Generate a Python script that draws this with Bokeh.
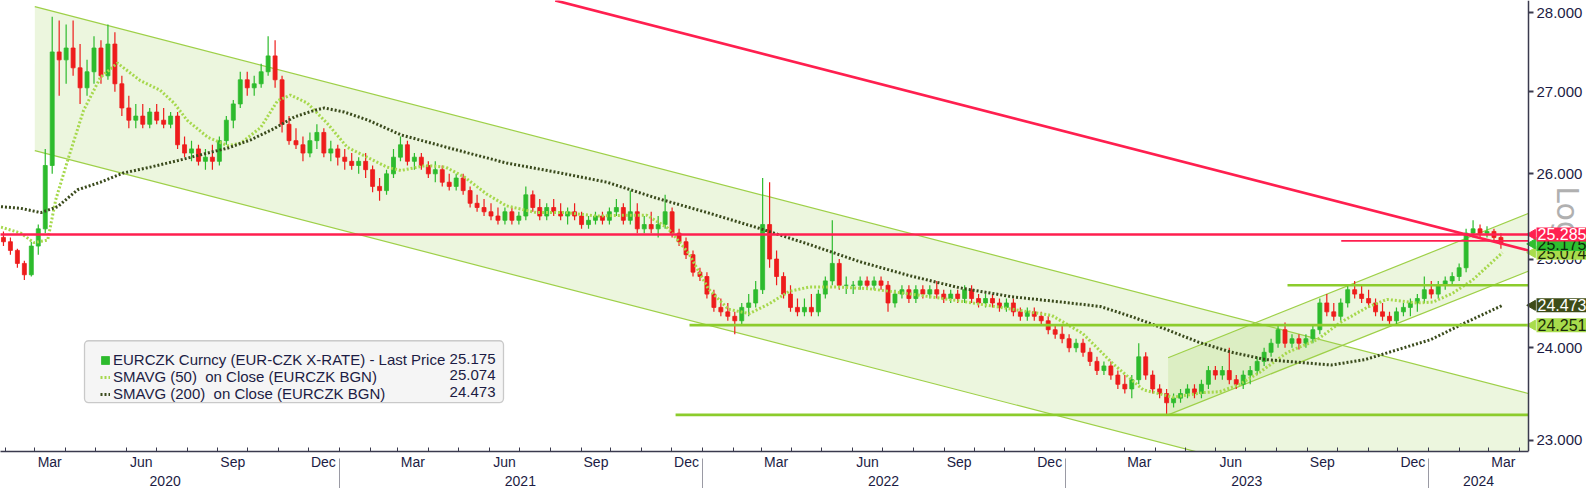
import math
import pandas as pd
from bokeh.plotting import figure
from bokeh.models import (Range1d, LinearAxis, FixedTicker, CustomJSTickFormatter,
                          Label, Legend, LegendItem, BoxAnnotation, ColumnDataSource)
from bokeh.embed import file_html
from bokeh.resources import INLINE

# ---------------- data (weekly EURCZK candles) ----------------
week_first = "2020-01-27"
opens = [
    25.25, 25.20, 25.10, 24.95, 24.82, 25.15, 25.35, 26.10, 27.50, 27.40, 27.55, 27.30,
    27.05, 27.25, 27.55, 27.20, 27.60, 27.10, 26.80, 26.65, 26.70, 26.60, 26.75, 26.65,
    26.60, 26.70, 26.35, 26.25, 26.30, 26.15, 26.20, 26.15, 26.40, 26.65, 26.85, 27.15,
    27.05, 27.10, 27.25, 27.45, 27.15, 26.60, 26.40, 26.35, 26.25, 26.40, 26.50, 26.25,
    26.30, 26.20, 26.15, 26.10, 26.15, 26.05, 25.85, 25.80, 26.00, 26.20, 26.35, 26.15,
    26.20, 26.10, 26.00, 26.05, 25.90, 25.85, 25.95, 25.80, 25.65, 25.60, 25.55, 25.50,
    25.45, 25.55, 25.45, 25.50, 25.75, 25.60, 25.50, 25.60, 25.55, 25.50, 25.55, 25.50,
    25.40, 25.45, 25.50, 25.45, 25.55, 25.60, 25.45, 25.55, 25.35, 25.40, 25.35, 25.40,
    25.55, 25.30, 25.20, 25.05, 24.85, 24.80, 24.60, 24.45, 24.40, 24.35, 24.30, 24.45,
    24.50, 24.65, 25.40, 25.00, 24.80, 24.60, 24.45, 24.40, 24.45, 24.40, 24.60, 24.75,
    24.95, 24.70, 24.70, 24.70, 24.75, 24.70, 24.75, 24.70, 24.50, 24.60, 24.65, 24.55,
    24.65, 24.60, 24.65, 24.60, 24.55, 24.60, 24.55, 24.65, 24.55, 24.50, 24.55, 24.50,
    24.45, 24.50, 24.40, 24.35, 24.40, 24.35, 24.30, 24.20, 24.15, 24.10, 24.00, 24.05,
    23.95, 23.85, 23.75, 23.80, 23.70, 23.60, 23.55, 23.65, 23.90, 23.70, 23.55, 23.50,
    23.40, 23.45, 23.50, 23.55, 23.50, 23.60, 23.75, 23.70, 23.75, 23.65, 23.60, 23.70,
    23.75, 23.85, 23.95, 24.05, 24.20, 24.05, 24.10, 24.05, 24.10, 24.20, 24.50, 24.40,
    24.35, 24.50, 24.65, 24.60, 24.55, 24.50, 24.40, 24.35, 24.30, 24.40, 24.45, 24.50,
    24.55, 24.65, 24.60, 24.70, 24.75, 24.80, 24.90, 25.30, 25.35, 25.30, 25.32, 25.25,
]
highs = [
    25.32, 25.25, 25.12, 24.98, 25.20, 25.40, 26.30, 27.95, 27.90, 27.85, 27.90, 27.60,
    27.40, 27.70, 27.65, 27.85, 27.75, 27.20, 26.95, 26.85, 26.85, 26.80, 26.85, 26.80,
    26.75, 26.75, 26.45, 26.40, 26.35, 26.30, 26.35, 26.45, 26.70, 26.90, 27.25, 27.25,
    27.20, 27.35, 27.70, 27.65, 27.20, 26.70, 26.55, 26.45, 26.50, 26.60, 26.55, 26.40,
    26.35, 26.30, 26.25, 26.20, 26.25, 26.10, 25.95, 26.05, 26.30, 26.45, 26.40, 26.25,
    26.25, 26.15, 26.15, 26.10, 26.00, 26.00, 26.00, 25.85, 25.75, 25.70, 25.65, 25.60,
    25.60, 25.60, 25.55, 25.85, 25.80, 25.70, 25.65, 25.70, 25.65, 25.60, 25.65, 25.55,
    25.50, 25.55, 25.55, 25.60, 25.70, 25.65, 25.80, 25.65, 25.50, 25.55, 25.50, 25.75,
    25.60, 25.35, 25.25, 25.10, 24.90, 24.85, 24.65, 24.55, 24.50, 24.40, 24.50, 24.60,
    24.75, 25.95, 25.90, 25.10, 24.85, 24.70, 24.55, 24.55, 24.60, 24.65, 24.80, 25.45,
    25.00, 24.80, 24.75, 24.80, 24.80, 24.80, 24.80, 24.75, 24.65, 24.70, 24.70, 24.70,
    24.70, 24.70, 24.75, 24.65, 24.65, 24.65, 24.70, 24.70, 24.60, 24.60, 24.60, 24.55,
    24.55, 24.55, 24.45, 24.45, 24.45, 24.40, 24.35, 24.25, 24.25, 24.15, 24.10, 24.10,
    24.00, 23.90, 23.85, 23.85, 23.75, 23.70, 23.70, 24.05, 23.95, 23.75, 23.60, 23.55,
    23.50, 23.55, 23.60, 23.60, 23.65, 23.80, 23.80, 23.80, 24.00, 23.70, 23.75, 23.80,
    23.90, 24.00, 24.10, 24.25, 24.28, 24.15, 24.15, 24.15, 24.25, 24.55, 24.60, 24.50,
    24.55, 24.70, 24.75, 24.70, 24.65, 24.55, 24.50, 24.40, 24.45, 24.50, 24.55, 24.60,
    24.80, 24.75, 24.75, 24.80, 24.85, 24.95, 25.35, 25.45, 25.40, 25.38, 25.35, 25.30,
]
lows = [
    25.15, 25.05, 24.90, 24.76, 24.80, 25.05, 25.30, 26.00, 26.95, 27.10, 27.20, 26.85,
    26.95, 27.10, 27.10, 27.15, 27.00, 26.70, 26.55, 26.55, 26.55, 26.55, 26.60, 26.55,
    26.55, 26.30, 26.20, 26.15, 26.10, 26.05, 26.05, 26.10, 26.35, 26.55, 26.80, 26.95,
    26.95, 27.05, 27.20, 27.05, 26.50, 26.35, 26.30, 26.15, 26.20, 26.30, 26.20, 26.15,
    26.10, 26.05, 26.05, 26.00, 25.95, 25.78, 25.68, 25.75, 25.95, 26.15, 26.10, 26.05,
    26.05, 25.95, 25.90, 25.85, 25.80, 25.80, 25.75, 25.60, 25.55, 25.50, 25.45, 25.40,
    25.40, 25.40, 25.40, 25.45, 25.55, 25.45, 25.45, 25.50, 25.45, 25.40, 25.45, 25.35,
    25.35, 25.40, 25.40, 25.40, 25.50, 25.40, 25.40, 25.30, 25.30, 25.30, 25.25, 25.35,
    25.25, 25.15, 25.00, 24.80, 24.75, 24.55, 24.40, 24.35, 24.30, 24.15, 24.25, 24.35,
    24.45, 24.60, 24.90, 24.70, 24.55, 24.40, 24.35, 24.35, 24.35, 24.35, 24.55, 24.70,
    24.65, 24.60, 24.60, 24.65, 24.65, 24.65, 24.65, 24.40, 24.45, 24.55, 24.50, 24.50,
    24.55, 24.55, 24.55, 24.50, 24.50, 24.50, 24.50, 24.50, 24.45, 24.45, 24.45, 24.40,
    24.40, 24.35, 24.30, 24.30, 24.30, 24.25, 24.15, 24.10, 24.05, 23.95, 23.95, 23.90,
    23.80, 23.70, 23.70, 23.65, 23.55, 23.50, 23.45, 23.60, 23.65, 23.50, 23.45, 23.28,
    23.35, 23.40, 23.45, 23.45, 23.45, 23.55, 23.65, 23.65, 23.60, 23.55, 23.55, 23.60,
    23.70, 23.80, 23.90, 24.00, 24.00, 24.00, 23.98, 24.00, 24.05, 24.15, 24.35, 24.30,
    24.30, 24.45, 24.55, 24.50, 24.45, 24.35, 24.30, 24.25, 24.25, 24.35, 24.35, 24.40,
    24.50, 24.55, 24.55, 24.65, 24.70, 24.75, 24.85, 25.25, 25.25, 25.25, 25.20, 25.12,
]
closes = [
    25.20, 25.10, 24.95, 24.82, 25.15, 25.35, 26.10, 27.50, 27.40, 27.55, 27.30, 27.05,
    27.25, 27.55, 27.20, 27.60, 27.10, 26.80, 26.65, 26.70, 26.60, 26.75, 26.65, 26.60,
    26.70, 26.35, 26.25, 26.30, 26.15, 26.20, 26.15, 26.40, 26.65, 26.85, 27.15, 27.05,
    27.10, 27.25, 27.45, 27.15, 26.60, 26.40, 26.35, 26.25, 26.40, 26.50, 26.25, 26.30,
    26.20, 26.15, 26.10, 26.15, 26.05, 25.85, 25.80, 26.00, 26.20, 26.35, 26.15, 26.20,
    26.10, 26.00, 26.05, 25.90, 25.85, 25.95, 25.80, 25.65, 25.60, 25.55, 25.50, 25.45,
    25.55, 25.45, 25.50, 25.75, 25.60, 25.50, 25.60, 25.55, 25.50, 25.55, 25.50, 25.40,
    25.45, 25.50, 25.45, 25.55, 25.60, 25.45, 25.55, 25.35, 25.40, 25.35, 25.40, 25.55,
    25.30, 25.20, 25.05, 24.85, 24.80, 24.60, 24.45, 24.40, 24.35, 24.30, 24.45, 24.50,
    24.65, 25.40, 25.00, 24.80, 24.60, 24.45, 24.40, 24.45, 24.40, 24.60, 24.75, 24.95,
    24.70, 24.70, 24.70, 24.75, 24.70, 24.75, 24.70, 24.50, 24.60, 24.65, 24.55, 24.65,
    24.60, 24.65, 24.60, 24.55, 24.60, 24.55, 24.65, 24.55, 24.50, 24.55, 24.50, 24.45,
    24.50, 24.40, 24.35, 24.40, 24.35, 24.30, 24.20, 24.15, 24.10, 24.00, 24.05, 23.95,
    23.85, 23.75, 23.80, 23.70, 23.60, 23.55, 23.65, 23.90, 23.70, 23.55, 23.50, 23.40,
    23.45, 23.50, 23.55, 23.50, 23.60, 23.75, 23.70, 23.75, 23.65, 23.60, 23.70, 23.75,
    23.85, 23.95, 24.05, 24.20, 24.05, 24.10, 24.05, 24.10, 24.20, 24.50, 24.40, 24.35,
    24.50, 24.65, 24.60, 24.55, 24.50, 24.40, 24.35, 24.30, 24.40, 24.45, 24.50, 24.55,
    24.65, 24.60, 24.70, 24.75, 24.80, 24.90, 25.30, 25.35, 25.30, 25.32, 25.25, 25.175,
]

sma50_dates = [
    "2020-01-27", "2020-02-16", "2020-02-29", "2020-03-14", "2020-03-22", "2020-04-03",
    "2020-04-19", "2020-05-06", "2020-05-23", "2020-06-15", "2020-07-05", "2020-07-19",
    "2020-08-01", "2020-08-22", "2020-09-11", "2020-09-24", "2020-10-14", "2020-10-31",
    "2020-11-13", "2020-11-30", "2020-12-20", "2021-01-09", "2021-01-29", "2021-02-18",
    "2021-03-04", "2021-03-29", "2021-04-18", "2021-05-07", "2021-05-29", "2021-06-18",
    "2021-07-18", "2021-08-17", "2021-09-17", "2021-10-17", "2021-11-06", "2021-11-27",
    "2021-12-18", "2022-01-07", "2022-01-27", "2022-02-17", "2022-03-09", "2022-03-29",
    "2022-04-18", "2022-05-19", "2022-06-18", "2022-07-30", "2022-09-18", "2022-11-08",
    "2022-12-18", "2023-01-18", "2023-02-18", "2023-03-20", "2023-04-19", "2023-05-20",
    "2023-06-05", "2023-06-25", "2023-07-15", "2023-08-12", "2023-09-11", "2023-10-04",
    "2023-10-31", "2023-11-20", "2023-12-20", "2024-01-05", "2024-01-25", "2024-02-14",
    "2024-03-15",
]
sma50_vals = [
    25.37, 25.30, 25.19, 25.22, 25.69, 26.16,
    26.77, 27.18, 27.36, 27.14, 27.02, 26.86,
    26.65, 26.44, 26.34, 26.37, 26.56, 26.89,
    26.96, 26.86, 26.61, 26.32, 26.20, 26.08,
    26.04, 26.10, 26.08, 25.96, 25.76, 25.62,
    25.54, 25.54, 25.50, 25.51, 25.51, 25.36,
    25.07, 24.66, 24.43, 24.38, 24.49, 24.63,
    24.68, 24.68, 24.66, 24.60, 24.52, 24.43,
    24.36, 24.16, 23.82, 23.54, 23.46, 23.51,
    23.52, 23.60, 23.73, 23.95, 24.09, 24.28,
    24.45, 24.54, 24.50, 24.51, 24.61, 24.76,
    25.074,
]
sma200_dates = [
    "2020-01-27", "2020-02-16", "2020-03-07", "2020-03-24", "2020-04-13", "2020-05-06",
    "2020-05-29", "2020-06-25", "2020-07-23", "2020-08-15", "2020-09-11", "2020-10-04",
    "2020-10-28", "2020-11-17", "2020-12-07", "2020-12-17", "2021-01-06", "2021-01-30",
    "2021-03-04", "2021-04-28", "2021-06-18", "2021-08-07", "2021-09-27", "2021-11-16",
    "2022-01-06", "2022-02-26", "2022-04-18", "2022-06-08", "2022-07-28", "2022-09-17",
    "2022-11-08", "2022-12-28", "2023-02-05", "2023-03-10", "2023-04-13", "2023-05-15",
    "2023-06-17", "2023-07-21", "2023-08-23", "2023-09-25", "2023-10-29", "2023-12-01",
    "2024-01-03", "2024-02-07", "2024-03-15",
]
sma200_vals = [
    25.61, 25.59, 25.54, 25.61, 25.81, 25.90,
    26.01, 26.08, 26.16, 26.23, 26.31, 26.41,
    26.55, 26.69, 26.77, 26.80, 26.75, 26.65,
    26.47, 26.29, 26.13, 26.02, 25.90, 25.71,
    25.54, 25.36, 25.17, 24.97, 24.81, 24.67,
    24.57, 24.51, 24.46, 24.34, 24.20, 24.06,
    23.95, 23.87, 23.84, 23.81, 23.87, 23.98,
    24.09, 24.28, 24.473,
]

# trend lines and levels (date, value end points)
channel_dates = ["2020-03-01", "2024-04-10"]
channel_upper = [28.08, 23.50]
channel_lower = [26.28, 21.99]
rising_dates = ["2023-04-14", "2024-04-10"]
rising_upper = [23.89, 25.53]
rising_lower = [23.27, 24.86]
red_trend_dates = ["2021-08-06", "2024-04-10"]
red_trend_vals = [28.16, 25.10]
green_levels = [24.251, 24.70, 23.27]
green_level_from = ["2021-12-19", "2023-08-12", "2021-12-05"]
red_levels = [25.285, 25.21]
red_level_from = ["2020-01-20", "2023-10-05"]
line_end = "2024-04-10"

legend_names = ["EURCZK Curncy (EUR-CZK X-RATE) - Last Price",
                "SMAVG (50)  on Close (EURCZK BGN)",
                "SMAVG (200)  on Close (EURCZK BGN)"]
legend_values = ["25.175", "25.074", "24.473"]
tag_values = [25.074, 25.175, 25.285, 24.473, 24.251]
y_ticks = [23, 24, 25, 26, 27, 28]

# ---------------- layout helpers (page pixel -> data) ----------------
ANCHOR = pd.Timestamp("2020-03-01")
PX_ANCHOR, PX_PER_DAY = 34.3, 0.995
LOG_A, LOG_B = 7269.2, 2177.8
W, H = 1586, 488
AXIS_X, FRAME_BOTTOM = 1528, 452


def ms(ts):
    return pd.Timestamp(ts).value / 1e6


def xd(px):
    return ms(ANCHOR + pd.Timedelta(days=(px - PX_ANCHOR) / PX_PER_DAY))


def yv(py):
    return math.exp((LOG_A - py) / LOG_B)


FONT = "Liberation Sans"
INK = "#1c1c44"
AXIS = "#3a3a4e"
RED = "#ff1f4f"
GREEN_UP = "#2dbb2d"
RED_DN = "#ee1c1c"
LEVEL_GREEN = "#8ccc2c"
CHAN_LINE = "#9ed048"
CHAN_FILL = "#9ed25a"
SMA50_C = "#a6d84c"
SMA200_C = "#3a4a1c"

p = figure(width=W, height=H, x_axis_type=None, y_axis_type="log",
           y_axis_location="right",
           x_range=Range1d(xd(0), xd(W)), y_range=Range1d(yv(FRAME_BOTTOM), yv(0)),
           output_backend="svg", toolbar_location=None,
           min_border_left=0, min_border_top=0, min_border_right=0,
           min_border_bottom=H - FRAME_BOTTOM)
p.outline_line_color = None
p.grid.visible = False
p.background_fill_color = "white"

# channels
cd = [pd.Timestamp(d) for d in channel_dates]
p.patch([cd[0], cd[1], cd[1], cd[0]],
        [channel_upper[0], channel_upper[1], channel_lower[1], channel_lower[0]],
        fill_color=CHAN_FILL, fill_alpha=0.2, line_color=None)
p.line(cd, channel_upper, line_color=CHAN_LINE, line_width=1.2)
p.line(cd, channel_lower, line_color=CHAN_LINE, line_width=1.2)
rd = [pd.Timestamp(d) for d in rising_dates]
p.patch([rd[0], rd[1], rd[1], rd[0]],
        [rising_upper[0], rising_upper[1], rising_lower[1], rising_lower[0]],
        fill_color=CHAN_FILL, fill_alpha=0.2, line_color=None)
p.line(rd, rising_upper, line_color=CHAN_LINE, line_width=1.2)
p.line(rd, rising_lower, line_color=CHAN_LINE, line_width=1.2)

# candles
starts = pd.date_range(week_first, periods=len(closes), freq="W-MON")
centers = starts + pd.Timedelta(hours=60)


def candle_source(rising):
    idx = [i for i in range(len(closes)) if (closes[i] >= opens[i]) == rising]
    return ColumnDataSource(dict(
        t=[centers[i] for i in idx],
        hi=[highs[i] for i in idx], lo=[lows[i] for i in idx],
        top=[max(opens[i], closes[i]) for i in idx],
        bot=[min(opens[i], closes[i]) for i in idx]))


body_w = 4.0 * 86400000
renderers = {}
for rising, col in ((True, GREEN_UP), (False, RED_DN)):
    src = candle_source(rising)
    p.segment("t", "hi", "t", "lo", source=src, line_color=col, line_width=1.2)
    renderers[rising] = p.vbar("t", body_w, "top", "bot", source=src,
                               fill_color=col, line_color=col, line_width=0.8)

# moving averages
r50 = p.line([pd.Timestamp(d) for d in sma50_dates], sma50_vals, line_color=SMA50_C,
             line_width=3, line_dash="2 2")
r200 = p.line([pd.Timestamp(d) for d in sma200_dates], sma200_vals, line_color=SMA200_C,
              line_width=3, line_dash="2 2")

# horizontal green levels
for lvl, start in zip(green_levels, green_level_from):
    p.line([pd.Timestamp(start), pd.Timestamp(line_end)], [lvl, lvl],
           line_color=LEVEL_GREEN, line_width=2.6)

# red levels and red trend line
p.line([pd.Timestamp(red_level_from[0]), pd.Timestamp(line_end)], [red_levels[0]] * 2,
       line_color=RED, line_width=2.6)
p.line([pd.Timestamp(red_level_from[1]), pd.Timestamp(line_end)], [red_levels[1]] * 2,
       line_color=RED, line_width=1.6)
p.line([pd.Timestamp(d) for d in red_trend_dates], red_trend_vals,
       line_color=RED, line_width=2.6)

# ---------------- axes ----------------
yax = p.yaxis[0]
yax.fixed_location = xd(AXIS_X)
yax.ticker = FixedTicker(ticks=y_ticks)
yax.formatter = CustomJSTickFormatter(code="return tick.toFixed(3);")
yax.axis_line_color = AXIS
yax.axis_line_width = 1.5
yax.major_tick_line_color = AXIS
yax.major_tick_line_width = 2
yax.major_tick_out = 5
yax.major_tick_in = 0
yax.minor_tick_line_color = None
yax.major_label_standoff = 3
yax.major_label_text_font = FONT
yax.major_label_text_font_size = "15px"
yax.major_label_text_color = INK

month_starts = pd.date_range("2020-02-01", "2024-04-01", freq="MS")
quarter_mid = [ms(pd.Timestamp(d.year, d.month, 16)) for d in month_starts if d.month in (3, 6, 9, 12)]
ax_m = LinearAxis(
    ticker=FixedTicker(ticks=quarter_mid, minor_ticks=[ms(d) for d in month_starts]),
    formatter=CustomJSTickFormatter(code="""
        const m = ['Jan','Feb','Mar','Apr','May','Jun','Jul','Aug','Sep','Oct','Nov','Dec'];
        return m[new Date(tick).getUTCMonth()];"""),
    bounds=(xd(0), xd(AXIS_X)),
    axis_line_color=AXIS, axis_line_width=1.5,
    major_tick_line_color=None, major_tick_in=0, major_tick_out=0,
    minor_tick_line_color=AXIS, minor_tick_in=4, minor_tick_out=0, minor_tick_line_width=1,
    major_label_standoff=2, major_label_text_font=FONT, major_label_text_font_size="14px",
    major_label_text_color=INK)
p.add_layout(ax_m, "below")

year_starts = [ms(pd.Timestamp(f"{y}-01-01")) for y in (2021, 2022, 2023, 2024)]
year_mid = [ms(pd.Timestamp(d)) for d in ("2020-07-10", "2021-07-02", "2022-07-02",
                                           "2023-07-02", "2024-02-20")]
ax_y = LinearAxis(
    ticker=FixedTicker(ticks=year_mid, minor_ticks=year_starts),
    formatter=CustomJSTickFormatter(code="return String(new Date(tick).getUTCFullYear());"),
    axis_line_color=None,
    major_tick_line_color=None, major_tick_in=0, major_tick_out=0,
    minor_tick_line_color="#9a9aa4", minor_tick_in=14, minor_tick_out=18, minor_tick_line_width=1,
    major_label_standoff=-15, major_label_text_font=FONT, major_label_text_font_size="14px",
    major_label_text_color=INK)
p.add_layout(ax_y, "below")

# ---------------- legend ----------------
p.add_layout(BoxAnnotation(left=xd(84), right=xd(503), top=yv(341), bottom=yv(403),
                           fill_color="#f5f5f5", fill_alpha=1.0, line_color="#5a5a5a",
                           line_width=1.3, border_radius=4, level="overlay"))
legend = Legend(items=[LegendItem(label=legend_names[0], renderers=[renderers[True]]),
                       LegendItem(label=legend_names[1], renderers=[r50]),
                       LegendItem(label=legend_names[2], renderers=[r200])],
                location=(100, FRAME_BOTTOM - 403), orientation="vertical",
                background_fill_alpha=0, border_line_color=None,
                padding=2, spacing=0, margin=0,
                glyph_width=10, glyph_height=10, label_standoff=3,
                label_height=17, label_width=300,
                label_text_font=FONT, label_text_font_size="15px", label_text_color=INK)
p.add_layout(legend)
for i, txt in enumerate(legend_values):
    p.add_layout(Label(x=xd(495), y=yv(359 + 16.8 * i), text=txt, text_align="right",
                       text_baseline="middle", text_font=FONT, text_font_size="15px",
                       text_color=INK, level="overlay"))

# ---------------- axis caption and right-side price tags ----------------
p.add_layout(Label(x=xd(1567), y=yv(213), text="Log", angle=-math.pi / 2,
                   text_align="center", text_baseline="middle", text_font="DejaVu Sans",
                   text_font_size="30px", text_color="#b0b0b0", level="annotation"))

tag_style = {
    25.074: ("#a8dc4c", "#1a2a08"),
    25.175: ("#2fbf2f", "#0c2a0c"),
    25.285: ("#ff2050", "white"),
    24.473: ("#3d4c18", "white"),
    24.251: ("#a8dc4c", "#1a2a08"),
}
for v in tag_values:
    bg, fg = tag_style[v]
    p.scatter([xd(1532)], [v], marker="triangle", angle=math.pi / 2, size=10,
              fill_color=bg, line_color=bg)
    p.add_layout(Label(x=xd(1536), y=v, text=f"{v:.3f}", text_align="left",
                       text_baseline="middle", text_font=FONT, text_font_size="16px",
                       text_color=fg, background_fill_color=bg, padding=1,
                       level="overlay"))

open("out.html", "w").write(file_html(p, INLINE))
